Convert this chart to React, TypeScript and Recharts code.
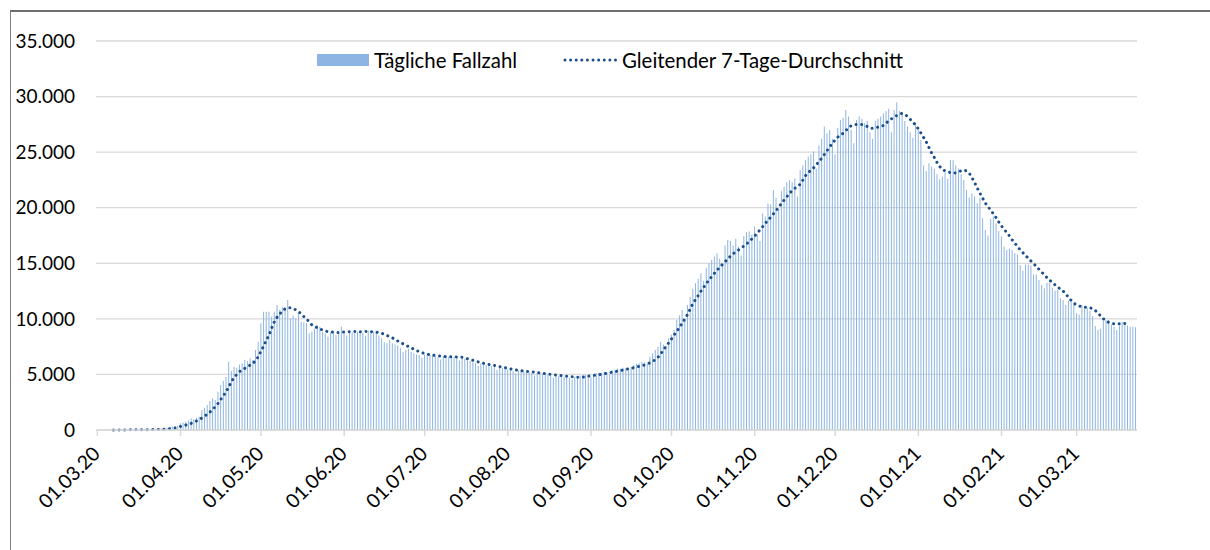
import React from "react";
import { ComposedChart, Bar, Line, XAxis, YAxis, CartesianGrid } from "recharts";

const FONT = "Lato, 'Noto Sans', sans-serif";

const TICK_LABELS = [
  "01.03.20", "01.04.20", "01.05.20", "01.06.20", "01.07.20", "01.08.20", "01.09.20",
  "01.10.20", "01.11.20", "01.12.20", "01.01.21", "01.02.21", "01.03.21",
];

const Y_TICKS = [0, 5000, 10000, 15000, 20000, 25000, 30000, 35000];

const SERIES_NAMES = ["Tägliche Fallzahl", "Gleitender 7-Tage-Durchschnitt"];

// daily reported cases, one value per day starting 01.03.2020 (week rows)
const DAILY_CASES = [
  2, 3, 4, 6, 8, 10, 12,
  12, 10, 11, 15, 18, 20, 22,
  26, 24, 22, 34, 40, 44, 52,
  70, 78, 80, 130, 170, 200, 250,
  300, 330, 380, 600, 680, 750, 850,
  1050, 1000, 1100, 1200, 1800, 2000, 2250,
  2600, 2850, 2700, 3450, 4050, 4400, 4800,
  6150, 5300, 5700, 5600, 5900, 6000, 6300,
  6200, 6450, 6300, 7200, 7950, 9600, 10650,
  10650, 10650, 10200, 10650, 11250, 10800, 11100,
  11100, 11700, 10050, 10300, 10050, 10500, 9750,
  9700, 9600, 8700, 8850, 9100, 9450, 9300,
  8850, 8700, 8400, 8800, 8900, 8550, 8700,
  9300, 8700, 8500, 8900, 8800, 8900, 8850,
  8900, 8750, 8500, 8950, 8900, 8850, 8900,
  8500, 8250, 7900, 7800, 8100, 7800, 7700,
  7600, 7400, 7000, 7200, 7300, 7050, 6900,
  6800, 6750, 6500, 6800, 6900, 6750, 6700,
  6650, 6550, 6350, 6650, 6700, 6600, 6600,
  6600, 6450, 6250, 6500, 6400, 6250, 6200,
  6100, 6000, 5750, 6000, 5950, 5850, 5800,
  5750, 5650, 5400, 5650, 5600, 5500, 5450,
  5400, 5300, 5100, 5350, 5350, 5250, 5250,
  5200, 5100, 4900, 5150, 5100, 5050, 5000,
  5000, 4900, 4700, 4900, 4850, 4850, 4800,
  4800, 4700, 4550, 4800, 4850, 4900, 4900,
  4950, 4900, 4750, 5000, 5100, 5150, 5150,
  5250, 5200, 5000, 5350, 5450, 5500, 5500,
  5600, 5550, 5350, 5700, 5850, 5950, 6000,
  6150, 6100, 5950, 6600, 6900, 7200, 7500,
  7950, 7700, 7600, 8250, 8600, 9000, 9900,
  10300, 10800, 10000, 11250, 12000, 12700, 13200,
  13600, 14100, 13400, 14600, 15000, 15300, 15600,
  15900, 15400, 14800, 16600, 17100, 17000, 16600,
  17200, 16500, 15700, 17450, 17800, 17850, 17600,
  18300, 17600, 17000, 19500, 19200, 20400, 20300,
  21600, 20900, 19900, 21500, 21900, 22300, 22500,
  22300, 22650, 21000, 23400, 23800, 24300, 24600,
  24800, 25050, 23500, 25600, 26200, 27300, 26700,
  27000, 26200, 24800, 27200, 27900, 28100, 28800,
  28200, 27000, 25800, 27900, 28200, 28000, 27600,
  27800, 26800, 26200, 27800, 28000, 28200, 28500,
  28700, 28900, 26800, 28800, 29500, 28700, 28500,
  27800, 27300, 26800, 26300, 27600, 27000, 26100,
  23800, 23300, 24000, 23700, 23500, 23000, 22550,
  22800, 23200, 22600, 24300, 24300, 23800, 23500,
  23000, 22500, 21600, 20900, 21300, 21000, 20400,
  20900, 19050, 18000, 17500, 19000, 19200, 18600,
  17900, 17400, 16500, 16200, 16300, 16200, 15900,
  15800, 14850, 14330, 14900, 14900, 14800, 14000,
  14000, 13500, 13050, 12750, 13250, 13250, 12800,
  12550, 12600, 11850, 11700, 11250, 11600, 11500,
  11250, 10500, 10400, 11250, 10900, 11000, 10700,
  10250, 9360, 9000, 9100, 9800, 9900, 9900,
  9500, 9300, 9000, 9400, 9750, 9600, 9400,
  9300, 9300, 9250,
];

// 7-day moving average (rows of 10 days)
const AVG_7DAY: (number | null)[] = [
  null, null, null, null, null, null, 5, 5, 8, 10,
  10, 12, 14, 15, 17, 20, 22, 25, 28, 30,
  35, 40, 45, 55, 65, 80, 100, 120, 150, 190,
  250, 320, 380, 450, 520, 600, 700, 820, 950, 1080,
  1250, 1420, 1620, 1850, 2100, 2400, 2750, 3100, 3450, 3900,
  4350, 4750, 5000, 5250, 5400, 5550, 5700, 5850, 6000, 6250,
  6600, 7100, 7550, 8100, 8550, 9200, 9750, 10150, 10450, 10700,
  10900, 11000, 11000, 10950, 10800, 10650, 10450, 10200, 10000, 9700,
  9450, 9320, 9200, 9080, 9000, 8900, 8850, 8820, 8800, 8780,
  8780, 8800, 8820, 8830, 8850, 8850, 8860, 8860, 8850, 8850,
  8860, 8850, 8850, 8830, 8800, 8760, 8700, 8600, 8500, 8400,
  8280, 8150, 8000, 7880, 7750, 7620, 7500, 7380, 7260, 7150,
  7050, 6950, 6880, 6820, 6770, 6740, 6700, 6680, 6650, 6620,
  6600, 6590, 6580, 6570, 6560, 6550, 6540, 6480, 6400, 6330,
  6270, 6200, 6120, 6060, 6000, 5950, 5900, 5850, 5810, 5760,
  5700, 5650, 5600, 5550, 5500, 5450, 5400, 5370, 5340, 5310,
  5280, 5260, 5240, 5200, 5170, 5130, 5100, 5070, 5040, 5010,
  4980, 4950, 4920, 4890, 4860, 4840, 4810, 4790, 4770, 4750,
  4740, 4760, 4800, 4850, 4880, 4910, 4950, 4980, 5020, 5060,
  5110, 5160, 5210, 5250, 5300, 5350, 5400, 5450, 5500, 5550,
  5610, 5670, 5730, 5790, 5850, 5950, 6050, 6180, 6320, 6550,
  6850, 7200, 7550, 7850, 8200, 8550, 8900, 9250, 9600, 10000,
  10400, 10900, 11400, 11750, 12100, 12500, 12850, 13200, 13500, 13800,
  14100, 14380, 14650, 14900, 15150, 15400, 15650, 15850, 16050, 16200,
  16380, 16550, 16750, 16950, 17200, 17450, 17750, 18000, 18300, 18600,
  18900, 19150, 19450, 19750, 20050, 20400, 20700, 21000, 21300, 21550,
  21750, 21950, 22100, 22500, 22900, 23150, 23400, 23600, 23850, 24200,
  24450, 24800, 25150, 25500, 25800, 26100, 26350, 26550, 26700, 26950,
  27200, 27380, 27450, 27500, 27500, 27480, 27400, 27300, 27150, 27150,
  27200, 27250, 27300, 27400, 27600, 27850, 28000, 28150, 28300, 28420,
  28490, 28400, 28200, 27950, 27700, 27440, 27100, 26700, 26300, 25900,
  25400, 24900, 24500, 24050, 23700, 23450, 23300, 23230, 23150, 23090,
  23150, 23240, 23320, 23390, 23300, 23100, 22700, 22250, 21750, 21300,
  20850, 20400, 20100, 19750, 19450, 19100, 18700, 18350, 18050, 17750,
  17450, 17100, 16800, 16500, 16200, 15950, 15700, 15450, 15200, 14950,
  14720, 14450, 14200, 13950, 13700, 13470, 13250, 13050, 12850, 12650,
  12500, 12200, 11950, 11650, 11400, 11250, 11150, 11100, 11050, 11020,
  11000, 10900, 10750, 10500, 10250, 10000, 9800, 9680, 9600, 9550,
  9540, 9560, 9600, 9580, 9540, 9540, null, null,
];

const pad = (n: number) => (n < 10 ? "0" + n : "" + n);
function dayLabel(i: number): string {
  const d = new Date(Date.UTC(2020, 2, 1 + i));
  return pad(d.getUTCDate()) + "." + pad(d.getUTCMonth() + 1) + "." + pad(d.getUTCFullYear() % 100);
}

const data = DAILY_CASES.map((v, i) => ({
  date: dayLabel(i),
  cases: v,
  avg: AVG_7DAY[i] ?? null,
}));

const fmt = (v: number) => String(v).replace(/\B(?=(\d{3})+(?!\d))/g, ".");

const BAR_COLOR = "#8DB4E2";
const LINE_COLOR = "#1B4F8C";
const GRID_COLOR = "#d9d9d9";

const XTick = (props: any) => {
  const { x, y, payload } = props;
  return (
    <g transform={`translate(${x + 4},${y + 17}) rotate(-45)`}>
      <text x={0} y={0} textAnchor="end" fill="#000" fontSize={19.5} fontFamily={FONT}>
        {payload.value}
      </text>
    </g>
  );
};

export default function App() {
  return (
    <div
      style={{
        position: "absolute",
        left: 0,
        top: 0,
        width: 1210,
        height: 550,
        overflow: "hidden",
        background: "#fff",
        fontFamily: FONT,
      }}
    >
      <div
        style={{
          position: "absolute",
          left: 10,
          top: 10,
          width: 1400,
          height: 800,
          borderLeft: "1px solid #808080",
          borderTop: "2px solid #6e6e6e",
          boxSizing: "border-box",
        }}
      />
      <div style={{ position: "absolute", left: 0, top: 0 }}>
        <ComposedChart
          width={1210}
          height={550}
          data={data}
          margin={{ top: 41, right: 73, bottom: 0, left: 0 }}
          barCategoryGap="27%"
        >
          <CartesianGrid vertical={false} stroke={GRID_COLOR} strokeWidth={1.3} />
          <XAxis
            dataKey="date"
            ticks={TICK_LABELS}
            interval={0}
            height={120}
            tick={<XTick />}
            tickSize={6}
            tickLine={{ stroke: GRID_COLOR, strokeWidth: 1.5 }}
            axisLine={{ stroke: GRID_COLOR, strokeWidth: 1.5 }}
          />
          <YAxis
            type="number"
            domain={[0, 35000]}
            ticks={Y_TICKS}
            width={96}
            axisLine={false}
            tickLine={false}
            tickSize={0}
            tickMargin={21}
            tickFormatter={fmt}
            tick={{ fill: "#000", fontSize: 19, fontFamily: FONT }}
          />
          <Bar dataKey="cases" name={SERIES_NAMES[0]} fill={BAR_COLOR} isAnimationActive={false} />
          <Line
            dataKey="avg"
            name={SERIES_NAMES[1]}
            type="linear"
            stroke={LINE_COLOR}
            strokeWidth={3}
            strokeDasharray="0.01 5.6"
            strokeLinecap="round"
            dot={false}
            activeDot={false}
            connectNulls={false}
            isAnimationActive={false}
          />
        </ComposedChart>
      </div>
      {/* legend */}
      <div style={{ position: "absolute", left: 317, top: 54, width: 52, height: 12, background: BAR_COLOR }} />
      <div style={{ position: "absolute", left: 374, top: 47, fontSize: 20.4, lineHeight: "26px", color: "#000", whiteSpace: "nowrap" }}>
        {SERIES_NAMES[0]}
      </div>
      <svg style={{ position: "absolute", left: 562, top: 55 }} width={58} height={10}>
        <line x1={3} y1={5} x2={55} y2={5} stroke={LINE_COLOR} strokeWidth={3} strokeDasharray="0.01 5.6" strokeLinecap="round" />
      </svg>
      <div style={{ position: "absolute", left: 622, top: 47, fontSize: 20.4, lineHeight: "26px", color: "#000", whiteSpace: "nowrap" }}>
        {SERIES_NAMES[1]}
      </div>
    </div>
  );
}
